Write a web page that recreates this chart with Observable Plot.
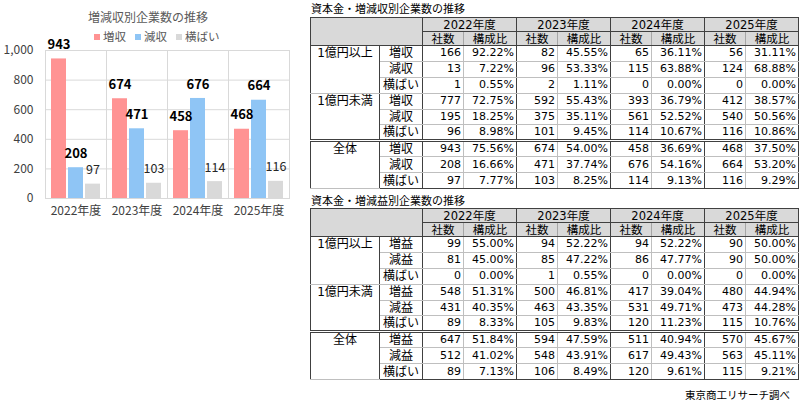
<!DOCTYPE html>
<html><head><meta charset="utf-8">
<script src="https://cdn.jsdelivr.net/npm/d3@7"></script>
<script src="https://cdn.jsdelivr.net/npm/@observablehq/plot@0.6"></script>
<style>
html,body{margin:0;padding:0;background:#fff;width:800px;height:409px;overflow:hidden;font-family:"Noto Sans CJK JP","Noto Sans",sans-serif;}
#chart{position:absolute;left:0;top:0;width:300px;height:230px;}
#ctitle{position:absolute;left:0;width:296px;top:9px;text-align:center;font-size:12px;color:#595959;line-height:16px;}
#legend{position:absolute;left:94px;top:28px;font-size:11.5px;color:#595959;line-height:16px;display:flex;gap:9px;}
#legend span.sw{display:inline-block;width:6px;height:6px;margin-right:3px;vertical-align:1px;}
#plot{position:absolute;left:0;top:40px;}
.ttl{position:absolute;left:311px;font-size:11px;color:#000;line-height:14px;}
table.t{position:absolute;left:310px;border-collapse:collapse;table-layout:fixed;width:488px;font-size:11px;color:#000;font-family:"DejaVu Sans","Noto Sans CJK JP",sans-serif;}
table.t td{line-height:12px;padding:0 2px;border:1px solid #bfbfbf;white-space:nowrap;overflow:hidden;}
table.t tr.hr{height:14px;}
table.t tr.dr{height:15.9px;}
table.t td.h{background:#d9d9d9;text-align:center;border-color:#404040;font-size:11.5px;}
table.t td.g{text-align:center;vertical-align:top;border-left:1px solid #404040;border-right:1px solid #404040;padding-top:1px;font-size:12px;}
table.t td.c{text-align:center;border-right:1px solid #404040;font-size:12px;}
table.t td.n{text-align:right;}
table.t td.p{text-align:right;border-right:1px solid #404040;}
table.t tr.gs td{border-top:1px solid #404040;}
table.t tr.gd td{border-top:3px double #404040;}
table.t tr.last td{border-bottom:1px solid #404040;}
#src{position:absolute;right:10px;top:387px;font-size:10.5px;color:#000;line-height:16px;}
</style></head>
<body>
<div id="chart">
  <div id="ctitle">増減収別企業数の推移</div>
  <div id="legend"></div>
  <div id="plot"></div>
</div>
<div class="ttl" style="top:1px">資本金・増減収別企業数の推移</div>
<table class="t" id="t1" style="top:17px"></table>
<div class="ttl" style="top:193px">資本金・増減益別企業数の推移</div>
<table class="t" id="t2" style="top:208px"></table>
<div id="src">東京商工リサーチ調べ</div>
<script>
// ---- chart data ----
const years = ["2022年度", "2023年度", "2024年度", "2025年度"];
const series = ["増収", "減収", "横ばい"];
const upCounts = [943, 674, 458, 468];
const downCounts = [208, 471, 676, 664];
const flatCounts = [97, 103, 114, 116];
const yTicks = [0, 200, 400, 600, 800, 1000];
const colors = ["#ff9393", "#8fc5f5", "#d9d9d9"];

// ---- table data ----
const groups = ["1億円以上", "1億円未満", "全体"];
const revCats = ["増収", "減収", "横ばい"];
const revCounts = [
  [166, 82, 65, 56], [13, 96, 115, 124], [1, 2, 0, 0],
  [777, 592, 393, 412], [195, 375, 561, 540], [96, 101, 114, 116],
  [943, 674, 458, 468], [208, 471, 676, 664], [97, 103, 114, 116]
];
const revShares = [
  ["92.22%", "45.55%", "36.11%", "31.11%"], ["7.22%", "53.33%", "63.88%", "68.88%"], ["0.55%", "1.11%", "0.00%", "0.00%"],
  ["72.75%", "55.43%", "36.79%", "38.57%"], ["18.25%", "35.11%", "52.52%", "50.56%"], ["8.98%", "9.45%", "10.67%", "10.86%"],
  ["75.56%", "54.00%", "36.69%", "37.50%"], ["16.66%", "37.74%", "54.16%", "53.20%"], ["7.77%", "8.25%", "9.13%", "9.29%"]
];
const profCats = ["増益", "減益", "横ばい"];
const profCounts = [
  [99, 94, 94, 90], [81, 85, 86, 90], [0, 1, 0, 0],
  [548, 500, 417, 480], [431, 463, 531, 473], [89, 105, 120, 115],
  [647, 594, 511, 570], [512, 548, 617, 563], [89, 106, 120, 115]
];
const profShares = [
  ["55.00%", "52.22%", "52.22%", "50.00%"], ["45.00%", "47.22%", "47.77%", "50.00%"], ["0.00%", "0.55%", "0.00%", "0.00%"],
  ["51.31%", "46.81%", "39.04%", "44.94%"], ["40.35%", "43.35%", "49.71%", "44.28%"], ["8.33%", "9.83%", "11.23%", "10.76%"],
  ["51.84%", "47.59%", "40.94%", "45.67%"], ["41.02%", "43.91%", "49.43%", "45.11%"], ["7.13%", "8.49%", "9.61%", "9.21%"]
];
const colHeads = ["社数", "構成比"];

// ---- legend ----
const leg = document.getElementById("legend");
series.forEach((s, i) => {
  const d = document.createElement("div");
  d.innerHTML = `<span class="sw" style="background:${colors[i]}"></span>${s}`;
  leg.appendChild(d);
});

// ---- chart ----
const valueSets = [upCounts, downCounts, flatCounts];
const data = years.flatMap((y, i) => series.map((s, j) => ({year: y, series: s, value: valueSets[j][i]})));
const font = '"Noto Sans CJK JP", "Noto Sans", sans-serif';
const chart = Plot.plot({
  width: 300, height: 185,
  marginTop: 10, marginBottom: 27, marginLeft: 45, marginRight: 11,
  style: {fontFamily: font, fontSize: "12px", color: "#404040", overflow: "visible", background: "transparent"},
  fx: {domain: years, padding: 0, label: null, axis: "bottom", tickSize: 0, tickPadding: 8},
  x: {domain: series, paddingInner: 0.118, paddingOuter: 0.353, axis: null},
  y: {domain: [0, 1000], ticks: yTicks, tickFormat: d3.format(","), tickSize: 0, tickPadding: 12, label: null},
  color: {domain: series, range: colors},
  marks: [
    Plot.gridY(yTicks, {stroke: "#d9d9d9", strokeOpacity: 1}),
    Plot.frame({stroke: "#d9d9d9"}),
    Plot.barY(data, {fx: "year", x: "series", y: "value", fill: "series"}),
    Plot.text(data.filter(d => d.series !== "横ばい"), {fx: "year", x: "series", y: "value", text: d => String(d.value), dy: -14, fontWeight: "bold", fontSize: 13, fill: "#000"}),
    Plot.text(data.filter(d => d.series === "横ばい"), {fx: "year", x: "series", y: "value", text: d => String(d.value), dy: -14, fontSize: 12.5, fill: "#262626"})
  ]
});
document.getElementById("plot").appendChild(chart);

// ---- tables ----
function buildTable(el, cats, counts, shares) {
  let h = '<colgroup><col style="width:69px"><col style="width:43px">';
  years.forEach(() => { h += '<col style="width:41px"><col style="width:53px">'; });
  h += '</colgroup>';
  h += '<tr class="hr"><td class="h" colspan="2" rowspan="2"></td>';
  years.forEach(y => { h += `<td class="h" colspan="2">${y}</td>`; });
  h += '</tr><tr class="hr">';
  years.forEach(() => { h += `<td class="h" style="border-right-color:#a6a6a6">${colHeads[0]}</td><td class="h" style="border-left-color:#a6a6a6">${colHeads[1]}</td>`; });
  h += '</tr>';
  groups.forEach((g, gi) => {
    cats.forEach((c, ci) => {
      const r = gi * 3 + ci;
      let cls = "dr";
      if (ci === 0 && gi < 2) cls += " gs";
      if (ci === 0 && gi === 2) cls += " gd";
      if (gi === 2 && ci === 2) cls += " last";
      h += `<tr class="${cls}">`;
      if (ci === 0) h += `<td class="g" rowspan="3">${g}</td>`;
      h += `<td class="c">${c}</td>`;
      years.forEach((y, yi) => {
        h += `<td class="n">${counts[r][yi]}</td><td class="p">${shares[r][yi]}</td>`;
      });
      h += '</tr>';
    });
  });
  el.innerHTML = h;
}
buildTable(document.getElementById("t1"), revCats, revCounts, revShares);
buildTable(document.getElementById("t2"), profCats, profCounts, profShares);
</script>
</body></html>
